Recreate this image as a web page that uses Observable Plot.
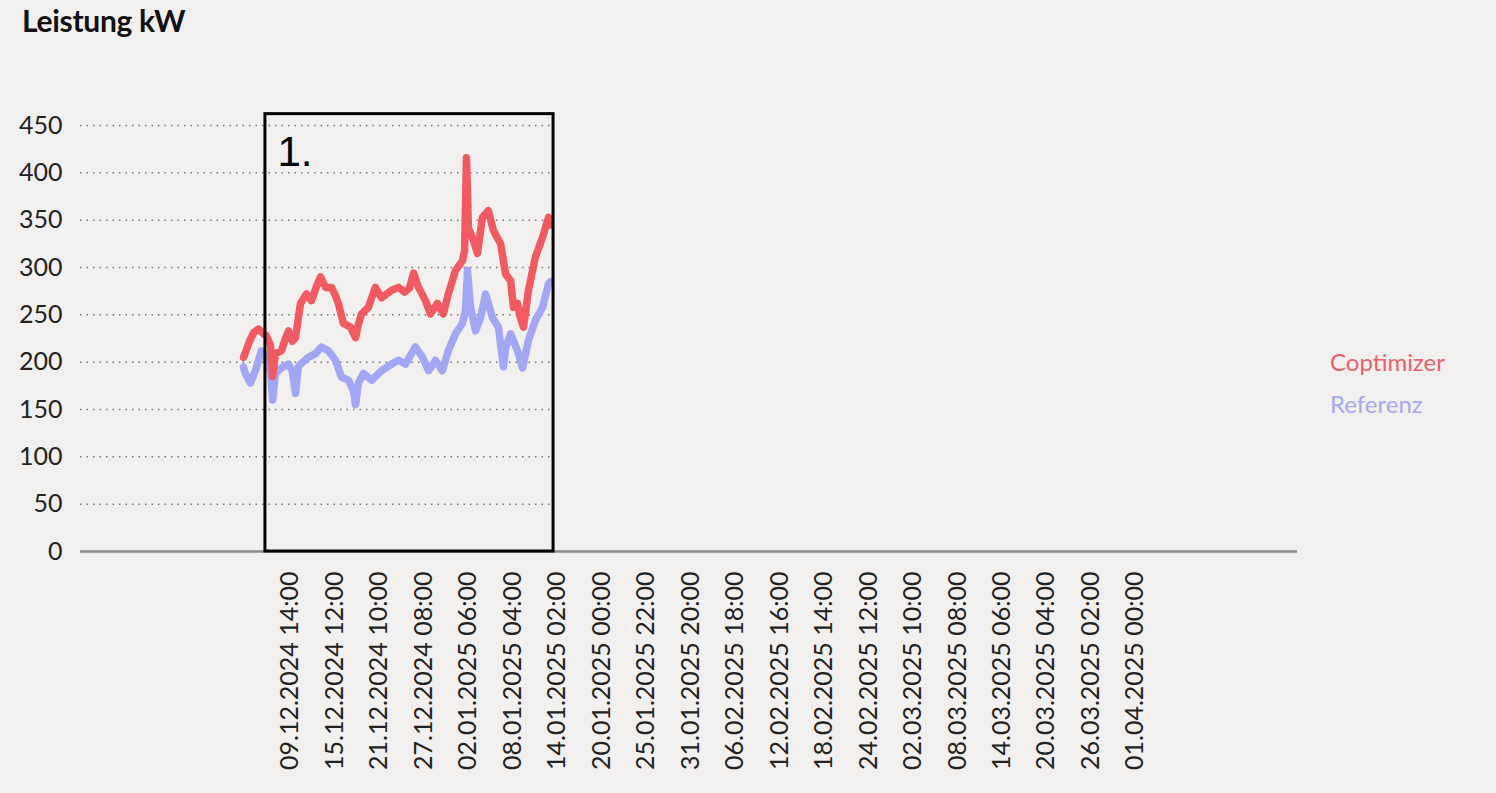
<!DOCTYPE html>
<html><head><meta charset="utf-8">
<script src="https://cdn.jsdelivr.net/npm/d3@7"></script>
<script src="https://cdn.jsdelivr.net/npm/@observablehq/plot@0.6"></script>
<style>
html,body{margin:0;padding:0;background:#f1f0ee;width:1496px;height:793px;overflow:hidden;font-family:Lato,sans-serif}
#title{position:absolute;left:22px;top:2px;font:700 30px Lato,sans-serif;color:#111;letter-spacing:-0.3px}
#chart{position:absolute;left:0;top:60px}
.leg{position:absolute;left:1330px;font:400 24px Lato,sans-serif;line-height:29px}
</style></head><body>
<div id="title">Leistung kW</div>
<div id="chart"></div>
<div class="leg" style="top:347px;color:#e8606a">Coptimizer</div>
<div class="leg" style="top:389px;color:#a7a9ee">Referenz</div>
<script>
const seriesNames = ["Coptimizer", "Referenz"];
const seriesColors = ["#ef5a63", "#a3a6f3"];
const yTicks = [0, 50, 100, 150, 200, 250, 300, 350, 400, 450];
const xTickLabels = [
  "09.12.2024 14:00","15.12.2024 12:00","21.12.2024 10:00","27.12.2024 08:00",
  "02.01.2025 06:00","08.01.2025 04:00","14.01.2025 02:00","20.01.2025 00:00",
  "25.01.2025 22:00","31.01.2025 20:00","06.02.2025 18:00","12.02.2025 16:00",
  "18.02.2025 14:00","24.02.2025 12:00","02.03.2025 10:00","08.03.2025 08:00",
  "14.03.2025 06:00","20.03.2025 04:00","26.03.2025 02:00","01.04.2025 00:00"
];
const xDomain = ["2024-11-11 15:30", "2025-04-22 13:30"];
const gridEnd = "2025-01-13 10:00";
const annotationBox = {from: "2024-12-06 06:00", to: "2025-01-13 14:00", low: 0, high: 462};
const annotationLabel = {at: "2024-12-07 20:30", value: 421, text: "1."};

const coptimizerTimes = [
  "2024-12-03 08:00","2024-12-03 14:00","2024-12-04 03:00","2024-12-04 16:00","2024-12-05 08:00",
  "2024-12-06 00:00","2024-12-06 09:00","2024-12-06 22:00","2024-12-07 05:00","2024-12-07 14:00",
  "2024-12-08 09:00","2024-12-08 22:00","2024-12-09 08:00","2024-12-09 20:00","2024-12-10 06:00",
  "2024-12-10 22:00","2024-12-11 17:00","2024-12-12 09:00","2024-12-13 01:00","2024-12-13 14:00",
  "2024-12-14 06:00","2024-12-15 01:00","2024-12-15 14:00","2024-12-15 23:00","2024-12-16 15:00",
  "2024-12-17 14:00","2024-12-18 06:00","2024-12-18 15:00","2024-12-19 01:00","2024-12-19 23:00",
  "2024-12-20 21:00","2024-12-21 17:00","2024-12-22 09:00","2024-12-23 01:00","2024-12-23 23:00",
  "2024-12-24 18:00","2024-12-25 10:00","2024-12-25 23:00","2024-12-26 15:00","2024-12-27 13:00",
  "2024-12-28 05:00","2024-12-29 03:00","2024-12-29 22:00","2024-12-30 14:00","2024-12-31 13:00",
  "2025-01-01 11:00","2025-01-01 18:00","2025-01-02 00:00","2025-01-02 06:00","2025-01-02 22:00",
  "2025-01-03 11:00","2025-01-04 03:00","2025-01-04 22:00","2025-01-05 14:00","2025-01-06 13:00",
  "2025-01-07 05:00","2025-01-07 21:00","2025-01-08 06:00","2025-01-08 19:00","2025-01-09 04:00",
  "2025-01-09 14:00","2025-01-10 06:00","2025-01-11 04:00","2025-01-12 03:00","2025-01-12 22:00",
  "2025-01-13 04:00"
];
const coptimizerValues = [
  205,210,222,231,235,
  230,228,218,185,209,
  212,225,233,222,226,
  262,272,265,280,290,
  279,279,270,262,241,
  237,226,240,251,258,
  279,268,272,276,279,
  274,278,294,279,265,
  251,262,251,272,297,
  307,318,416,342,329,
  315,353,360,339,325,
  293,286,258,262,247,
  237,276,311,332,353,
  345
];
const referenzTimes = [
  "2024-12-03 08:00","2024-12-03 14:00","2024-12-04 06:00","2024-12-04 22:00","2024-12-05 17:00",
  "2024-12-06 09:00","2024-12-06 22:00","2024-12-07 05:00","2024-12-07 14:00","2024-12-08 09:00",
  "2024-12-09 08:00","2024-12-09 20:00","2024-12-10 06:00","2024-12-10 15:00","2024-12-10 22:00",
  "2024-12-11 23:00","2024-12-12 22:00","2024-12-13 17:00","2024-12-14 15:00","2024-12-15 14:00",
  "2024-12-16 09:00","2024-12-17 07:00","2024-12-17 23:00","2024-12-18 06:00","2024-12-18 15:00",
  "2024-12-19 07:00","2024-12-20 09:00","2024-12-21 17:00","2024-12-23 01:00","2024-12-23 23:00",
  "2024-12-24 21:00","2024-12-26 05:00","2024-12-27 04:00","2024-12-27 23:00","2024-12-28 21:00",
  "2024-12-29 19:00","2024-12-30 14:00","2024-12-31 13:00","2025-01-01 11:00","2025-01-01 21:00",
  "2025-01-02 03:00","2025-01-02 13:00","2025-01-03 05:00","2025-01-03 21:00","2025-01-04 13:00",
  "2025-01-05 11:00","2025-01-06 06:00","2025-01-06 22:00","2025-01-07 05:00","2025-01-07 21:00",
  "2025-01-08 19:00","2025-01-09 11:00","2025-01-10 06:00","2025-01-11 04:00","2025-01-12 03:00",
  "2025-01-12 22:00","2025-01-13 04:00"
];
const referenzValues = [
  195,188,178,191,212,
  205,190,160,188,194,
  198,190,167,195,198,
  205,209,216,212,202,
  184,181,170,155,178,
  188,181,191,198,202,
  198,216,205,191,202,
  191,212,230,241,255,
  297,258,233,247,272,
  247,237,195,215,230,
  212,194,223,244,258,
  283,285
];

const parseIso = d3.utcParse("%Y-%m-%d %H:%M");
const parseLabel = d3.utcParse("%d.%m.%Y %H:%M");
const fmtLabel = d3.utcFormat("%d.%m.%Y %H:%M");

const copt = coptimizerTimes.map((t, i) => ({date: parseIso(t), value: coptimizerValues[i], series: seriesNames[0]}));
const ref = referenzTimes.map((t, i) => ({date: parseIso(t), value: referenzValues[i], series: seriesNames[1]}));
const xStart = parseIso(xDomain[0]);
const xEnd = parseIso(xDomain[1]);
const gEnd = parseIso(gridEnd);
const box = [{x1: parseIso(annotationBox.from), x2: parseIso(annotationBox.to), y1: annotationBox.low, y2: annotationBox.high}];
const lbl = [{x: parseIso(annotationLabel.at), y: annotationLabel.value, text: annotationLabel.text}];

const chart = Plot.plot({
  width: 1496,
  height: 733,
  marginLeft: 80,
  marginRight: 199,
  marginTop: 65,
  marginBottom: 242,
  style: {background: "transparent", fontFamily: "Lato, sans-serif", fontSize: "25px", color: "#222", overflow: "visible"},
  x: {type: "utc", domain: [xStart, xEnd], ticks: xTickLabels.map(parseLabel), tickFormat: fmtLabel, tickRotate: -90, tickSize: 0, tickPadding: 20, label: null},
  y: {domain: [0, 450], ticks: yTicks, tickSize: 0, tickPadding: 18, label: null},
  marks: [
    Plot.ruleY(yTicks.filter(v => v > 0), {x1: () => xStart, x2: () => gEnd, stroke: "#777", strokeWidth: 1.5, strokeDasharray: "1.5,5"}),
    Plot.ruleY([0], {stroke: "#8c8c8c", strokeWidth: 2.5}),
    Plot.line(ref, {x: "date", y: "value", stroke: seriesColors[1], strokeWidth: 7.5, strokeLinejoin: "round"}),
    Plot.line(copt, {x: "date", y: "value", stroke: seriesColors[0], strokeWidth: 7.5, strokeLinejoin: "round"}),
    Plot.rect(box, {x1: "x1", x2: "x2", y1: "y1", y2: "y2", fill: "none", stroke: "#000", strokeWidth: 3}),
    Plot.text(lbl, {x: "x", y: "y", text: "text", fontSize: 42, fontFamily: "Liberation Sans, Arial, sans-serif", textAnchor: "start", fill: "#000"})
  ]
});
document.getElementById("chart").appendChild(chart);
</script>
</body></html>
